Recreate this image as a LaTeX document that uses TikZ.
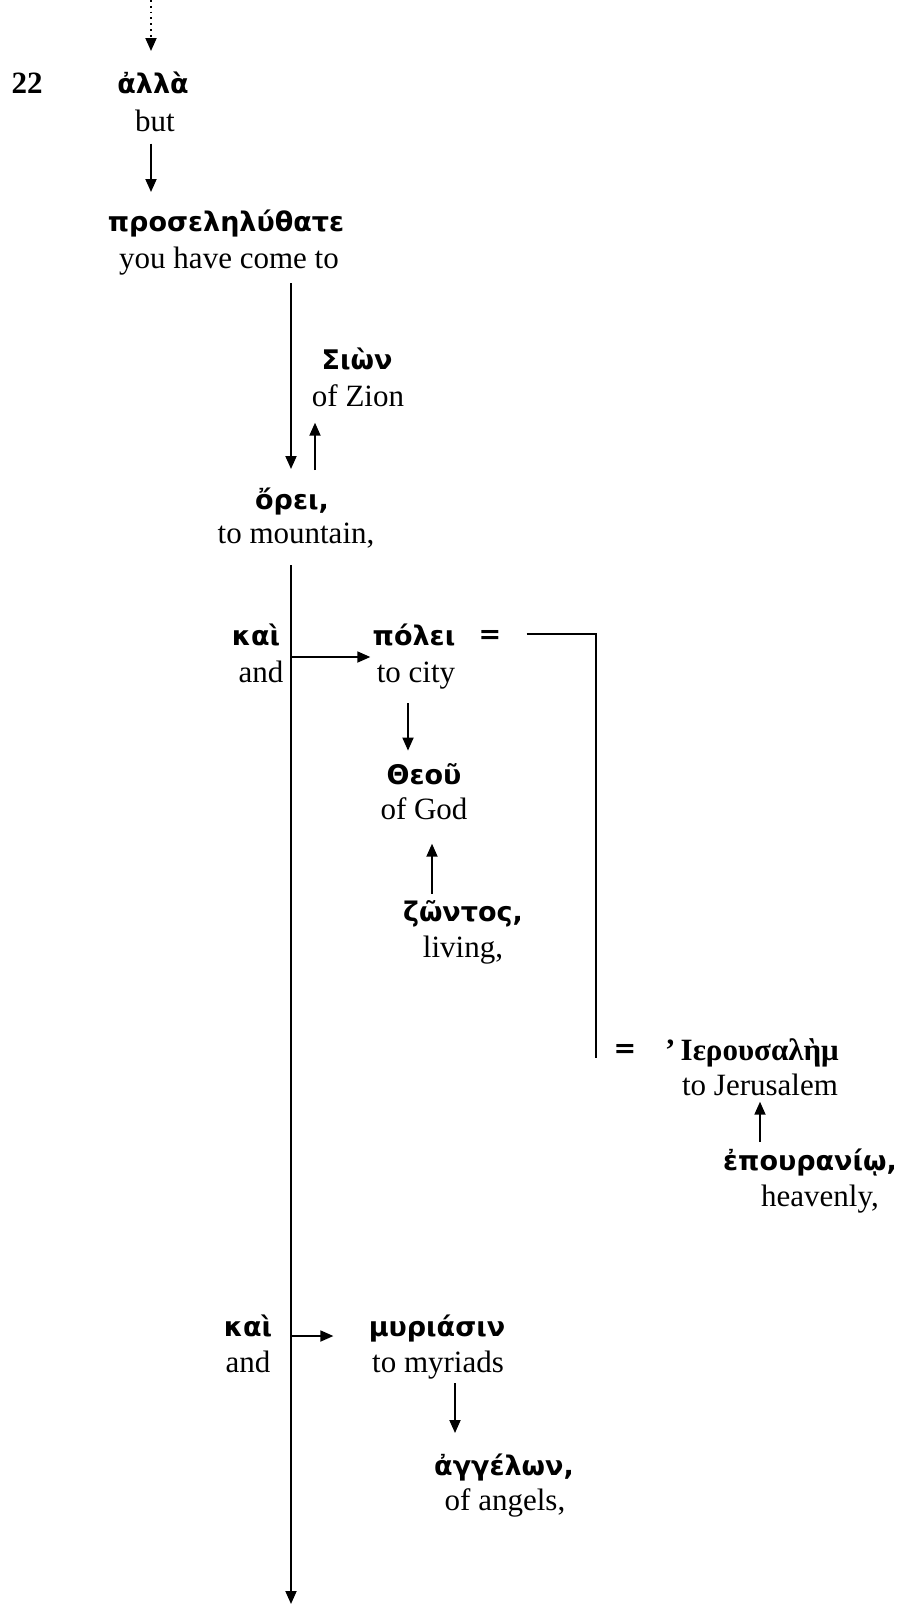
\documentclass[tikz,border=0pt]{standalone}
\usepackage{fontspec}
\setmainfont{Liberation Serif}
\newfontfamily\grk{DejaVu Sans}
\usepackage{tikz}
\usetikzlibrary{calc,arrows.meta}
\tikzset{
  gk/.style={font=\grk\bfseries\fontsize{13.5}{15}\selectfont, inner sep=0pt, anchor=base},
  gks/.style={font=\bfseries\fontsize{15.5}{18}\selectfont, inner sep=0pt, anchor=base},
  en/.style={font=\fontsize{15.5}{18}\selectfont, inner sep=0pt, anchor=base},
  vnum/.style={font=\bfseries\fontsize{15.5}{18}\selectfont, inner sep=0pt, anchor=base},
  eq/.style={font=\grk\bfseries\fontsize{13.5}{15}\selectfont, inner sep=0pt},
  line/.style={draw=black, line width=0.9pt},
  arr/.style={line, -{Triangle[length=6.5pt,width=5.5pt]}},
  dots/.style={arr, dotted},
}

\begin{document}
\begin{tikzpicture}[x=0.5pt,y=-0.5pt]
  \useasboundingbox (0,0) rectangle (916,1608);
  % verse 22
  \node[vnum] (v22) at (27,93) {22};
  \node[gk] (alla) at (153,93) {ἀλλὰ};
  \node[en] (alla-t) at (155,131) {but};
  \node[gk] (prosel) at (226,231) {προσεληλύθατε};
  \node[en] (prosel-t) at (229,268) {you have come to};
  \node[gk] (sion) at (357,369) {Σιὼν};
  \node[en] (sion-t) at (358,406) {of Zion};
  \node[gk] (orei) at (292,509) {ὄρει,};
  \node[en] (orei-t) at (296,543) {to mountain,};
  % first kai
  \node[gk] (kai1) at (256,645) {καὶ};
  \node[en] (kai1-t) at (261,682) {and};
  \node[gk] (polei) at (414,645) {πόλει};
  \node[eq] (eq1) at (490,637) {=};
  \node[en] (polei-t) at (416,682) {to city};
  \node[gk] (theou) at (424,784) {Θεοῦ};
  \node[en] (theou-t) at (424,819) {of God};
  \node[gk] (zontos) at (463,921) {ζῶντος,};
  \node[en] (zontos-t) at (463,957) {living,};
  \node[eq] (eq2) at (625,1051) {=};
  \node[gks] (ierus) at (752,1060) {’\,Ιερουσαλὴμ};
  \node[en] (ierus-t) at (760,1095) {to Jerusalem};
  \node[gk] (epour) at (810,1170) {ἐπουρανίῳ,};
  \node[en] (epour-t) at (820,1206) {heavenly,};
  % second kai
  \node[gk] (kai2) at (248,1336) {καὶ};
  \node[en] (kai2-t) at (248,1372) {and};
  \node[gk] (myrias) at (437,1336) {μυριάσιν};
  \node[en] (myrias-t) at (438,1372) {to myriads};
  \node[gk] (angel) at (504,1475) {ἀγγέλων,};
  \node[en] (angel-t) at (505,1510) {of angels,};

  \coordinate (in) at (151,0);
  \coordinate (spine) at (291,565);
  \coordinate (out) at (291,1604);
  \coordinate (bend) at (596,634);

  \draw[dots] (in) -- ($(in |- alla.north)+(0,-20)$);
  \draw[arr] ($(alla-t.south)+(-4,12)$) -- ($(prosel.north)+(-75,-17)$);
  \draw[arr] ($(prosel-t.south)+(62,8)$) -- ($(orei.north)+(-1,-18)$);
  \draw[arr] ($(orei.north)+(23,-17)$) -- ($(sion-t.south)+(-43,16)$);
  \draw[arr] (spine) -- (out);
  \draw[arr] ($(spine |- polei.base)+(0,12)$) -- ($(polei.west |- polei.base)+(-2,12)$);
  \draw[line] ($(eq1.east)+(25,-3)$) -- (bend) -- (bend |- eq2.south);
  \draw[arr] ($(polei-t.south)+(-8,14)$) -- ($(theou.north)+(-16,-12)$);
  \draw[arr] ($(zontos.north)+(-31,-6)$) -- ($(theou-t.south)+(8,24)$);
  \draw[arr] ($(epour.north)+(-50,-6)$) -- ($(ierus-t.south)+(0,6)$);
  \draw[arr] (spine |- myrias.base) -- ($(myrias.west |- myrias.base)+(-35,0)$);
  \draw[arr] ($(myrias-t.south)+(17,4)$) -- ($(angel.north)+(-49,-20)$);
\end{tikzpicture}
\end{document}
